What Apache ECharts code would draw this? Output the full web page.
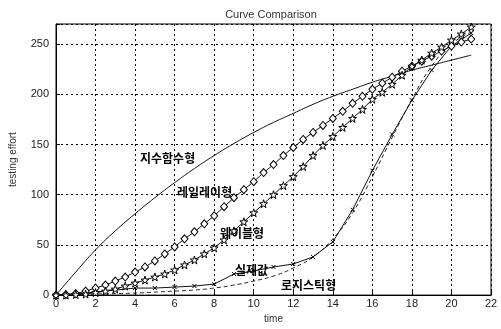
<!DOCTYPE html>
<html><head><meta charset="utf-8">
<script src="https://cdn.jsdelivr.net/npm/echarts@6/dist/echarts.min.js"></script>
<style>html,body{margin:0;padding:0;background:#fff}#c{width:501px;height:329px}</style>
</head><body><div id="c"></div>
<script>
// time points
var timeHalf = [0,0.5,1,1.5,2,2.5,3,3.5,4,4.5,5,5.5,6,6.5,7,7.5,8,8.5,9,9.5,10,10.5,11,11.5,12,12.5,13,13.5,14,14.5,15,15.5,16,16.5,17,17.5,18,18.5,19,19.5,20,20.5,21];
var timeWeek = [0,1,2,3,4,5,6,7,8,9,10,11,12,13,14,15,16,17,18,19,20,21];
// series values
var rayleigh = [0,0.5,1.5,4,7,10,14,18,23,28,34,41,48,56,63,71,79,88,97,105,113,122,130,139,147,155,162,169,176,183,191,198,205,211,217,223,228,233,238,243,248,252,255];
var weibull  = [0,0,0.5,1,2.5,4,6,9,12,15,18,21,25,30,35,41,47,55,64,73,82,91,100,109,118,128,139,149,158,167,176,185,195,202,210,219,228,234,241,247,254,260,267];
var exponential = [0,23,45,64,81,97,112,126,139,151,162,172,181,190,198,205,212,218,224,229,234,239];
var actual   = [0,1,3,5,7,7,8,9,11,21,24,28,31,38,53,85,124,160,194,224,248,261];
var logistic = [0,0.5,1,1.5,2,3,4,5,7,10,14,19,27,38,56,82,118,157,195,228,250,262];
// tick labels
var xTicks = [0,2,4,6,8,10,12,14,16,18,20,22];
var yTicks = [0,50,100,150,200,250];
var labels = ['지수함수형','레일레이형','웨이블형','실제값','로지스틱형'];

function pairs(xs, ys){ return xs.map(function(x,i){ return [x, ys[i]]; }); }

var chart = echarts.init(document.getElementById('c'), null, {renderer:'canvas'});
var starPath = 'path://M50,0 L61,35 L98,35 L68,57 L79,91 L50,70 L21,91 L32,57 L2,35 L39,35 Z';
var crossPath = 'path://M0,0L10,10M10,0L0,10';
chart.setOption({
  animation:false,
  backgroundColor:'#fff',
  title:{text:'Curve Comparison', left:266, top:4, textAlign:'center',
    textStyle:{fontFamily:'Liberation Sans', fontSize:11, fontWeight:'normal', color:'#333'}},
  grid:{left:53, right:10, top:24, bottom:25, show:true, borderColor:'#000', borderWidth:1},
  xAxis:{type:'value', min:0, max:22, interval:2, name:'time', nameLocation:'middle', nameGap:14,
    nameTextStyle:{fontFamily:'Liberation Sans', fontSize:10, color:'#333'},
    axisLine:{lineStyle:{color:'#000'}}, axisTick:{inside:true, length:4, lineStyle:{color:'#000'}},
    axisLabel:{margin:3, fontFamily:'Liberation Sans', fontSize:11, color:'#222',
      formatter:function(v){ return xTicks.indexOf(v)>=0 ? String(v) : ''; }},
    splitLine:{show:true, lineStyle:{color:'#000', type:[2,3], width:1}}},
  yAxis:{type:'value', min:0, max:270, interval:50, name:'testing effort', nameLocation:'middle', nameGap:38,
    nameTextStyle:{fontFamily:'Liberation Sans', fontSize:10, color:'#333'},
    axisLine:{lineStyle:{color:'#000'}}, axisTick:{inside:true, length:4, lineStyle:{color:'#000'}},
    axisLabel:{margin:7, fontFamily:'Liberation Sans', fontSize:11, color:'#222',
      formatter:function(v){ return yTicks.indexOf(v)>=0 ? String(v) : ''; }},
    splitLine:{show:true, lineStyle:{color:'#000', type:[2,3], width:1}}},
  series:[
    {type:'line', name:'exponential', data:pairs(timeWeek, exponential), smooth:true, showSymbol:false,
      lineStyle:{color:'#111', width:1}},
    {type:'line', name:'logistic', data:pairs(timeWeek, logistic), smooth:true, showSymbol:false,
      lineStyle:{color:'#222', width:1, type:[4,3]}},
    {type:'line', name:'actual', data:pairs(timeWeek, actual), smooth:false, symbol:crossPath, symbolSize:4,
      itemStyle:{color:'#000', borderColor:'#000', borderWidth:1}, lineStyle:{color:'#111', width:1}},
    {type:'line', name:'rayleigh', data:pairs(timeHalf, rayleigh), symbol:'diamond', symbolSize:[7,8],
      itemStyle:{color:'#fff', borderColor:'#000', borderWidth:1}, lineStyle:{color:'#111', width:1}},
    {type:'line', name:'weibull', data:pairs(timeHalf, weibull), symbol:starPath, symbolSize:8,
      itemStyle:{color:'#fff', borderColor:'#000', borderWidth:1}, lineStyle:{color:'#111', width:1}}
  ],
  graphic:[
    {type:'text', left:140, top:152, style:{text:labels[0], font:'bold 12px "Noto Sans CJK KR"', fill:'#000'}},
    {type:'text', left:177, top:186, style:{text:labels[1], font:'bold 12px "Noto Sans CJK KR"', fill:'#000'}},
    {type:'text', left:220, top:227, style:{text:labels[2], font:'bold 12px "Noto Sans CJK KR"', fill:'#000'}},
    {type:'text', left:235, top:264, style:{text:labels[3], font:'bold 12px "Noto Sans CJK KR"', fill:'#000'}},
    {type:'text', left:281, top:279, style:{text:labels[4], font:'bold 12px "Noto Sans CJK KR"', fill:'#000'}}
  ]
});
</script></body></html>
